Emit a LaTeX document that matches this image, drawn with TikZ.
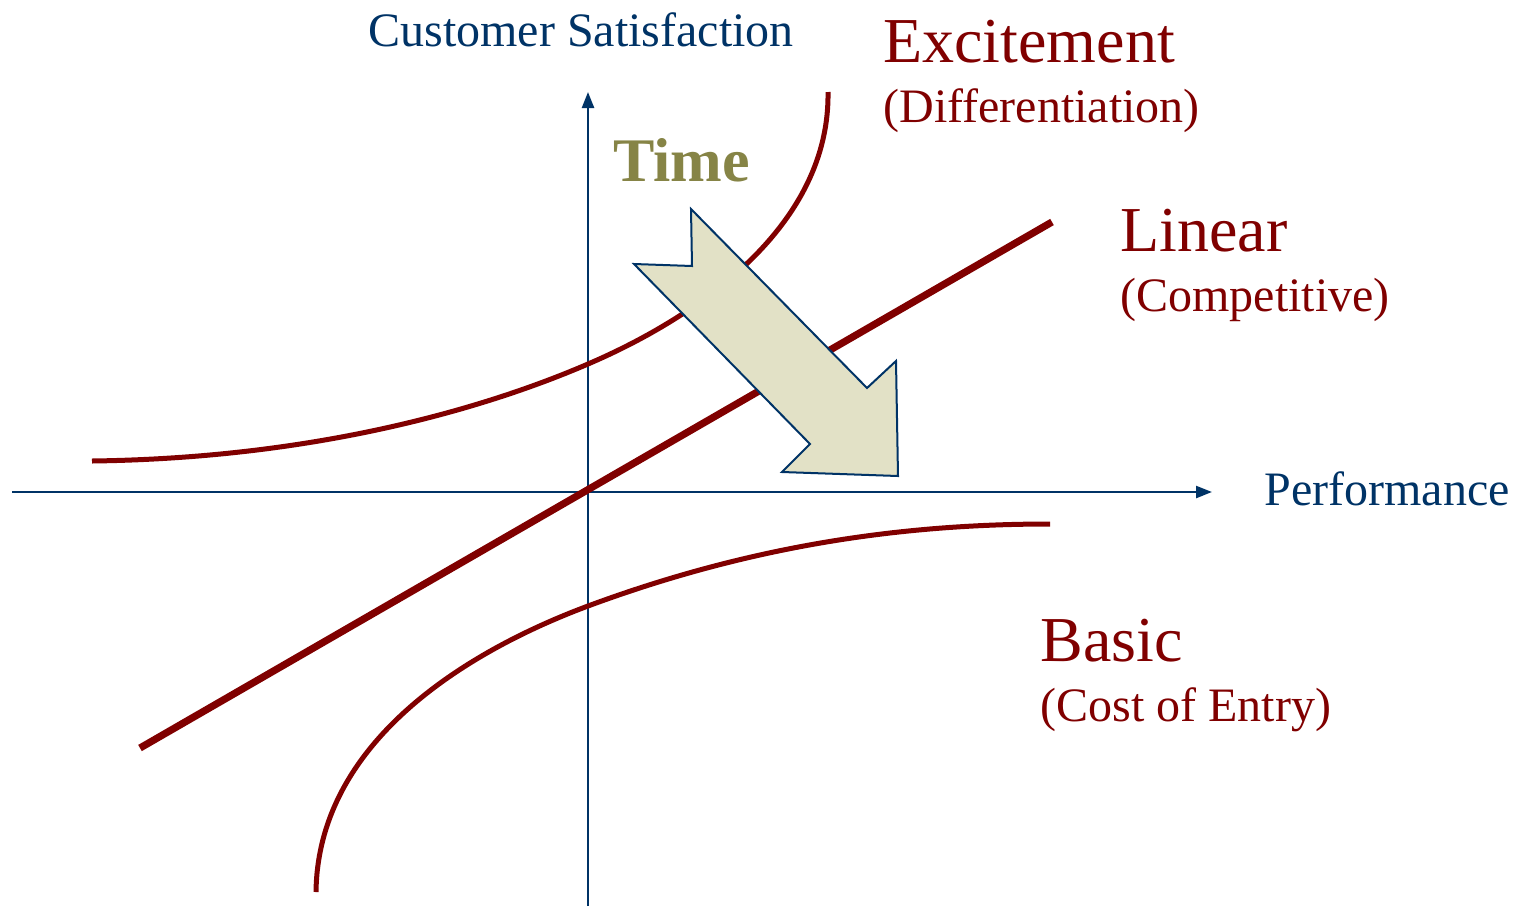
\documentclass[tikz,border=0pt]{standalone}
\usepackage{fontspec}
\setmainfont{Liberation Serif}
\usetikzlibrary{arrows.meta}
\definecolor{navy}{RGB}{0,51,102}
\definecolor{maroon}{RGB}{128,0,0}
\definecolor{olive}{RGB}{134,132,70}
\definecolor{khaki}{RGB}{226,225,198}
\tikzset{
  axis/.style={draw=navy, line width=1.2pt, -{Triangle[length=8pt,width=6pt]}},
  curve/.style={draw=maroon, line width=2.5pt},
  trend/.style={draw=maroon, line width=3.6pt},
  label/.style={inner sep=0pt, anchor=base west},
  small/.style={label, font=\fontsize{24}{28}\selectfont},
  big/.style={label, font=\fontsize{32}{38}\selectfont},
  timearrow/.style={draw=navy, fill=khaki, line width=1pt, line join=miter}
}
\begin{document}
\begin{tikzpicture}[x=0.5pt, y=-0.5pt]
  \useasboundingbox (0,0) rectangle (1527,906);

  % axes
  \coordinate (xs) at (12,492);
  \coordinate (xe) at (1212,492);
  \coordinate (ys) at (588,906);
  \coordinate (ye) at (588,92);
  \draw[axis] (xs) -- (xe);
  \draw[axis] (ys) -- (ye);

  % excitement curve
  \coordinate (e0) at (92,461);
  \coordinate (e1) at (588,364);
  \coordinate (e2) at (828,92);
  \draw[curve] (e0) .. controls (330,458) and (500,402) .. (e1)
                    .. controls (700,316) and (830,225) .. (e2);

  % linear line
  \coordinate (l0) at (140,748);
  \coordinate (l1) at (1052,222);
  \draw[trend] (l0) -- (l1);

  % basic curve
  \coordinate (b0) at (316,892);
  \coordinate (b1) at (588,606);
  \coordinate (b2) at (1050,524);
  \draw[curve] (b0) .. controls (318,740) and (470,650) .. (b1)
                    .. controls (750,546) and (900,524) .. (b2);

  % time block arrow
  \draw[timearrow] (691,209) -- (692,266) -- (634,264) -- (810,444)
     -- (782,472) -- (898,476) -- (896,361) -- (867,388) -- cycle;

  % labels
  \node[small, text=navy] (ylab) at (368,46) {Customer Satisfaction};
  \node[small, text=navy] (xlab) at (1264,505) {Performance};
  \node[big, text=maroon] (exc) at (883,62) {Excitement};
  \node[small, text=maroon] (excsub) at (883,122) {(Differentiation)};
  \node[big, text=maroon] (lin) at (1120,251) {Linear};
  \node[small, text=maroon] (linsub) at (1120,311) {(Competitive)};
  \node[big, text=maroon] (bas) at (1040,661) {Basic};
  \node[small, text=maroon] (bassub) at (1040,721) {(Cost of Entry)};
  \node[label, text=olive, font=\fontsize{31}{36}\selectfont\bfseries] (time) at (613,181) {Time};
\end{tikzpicture}
\end{document}
